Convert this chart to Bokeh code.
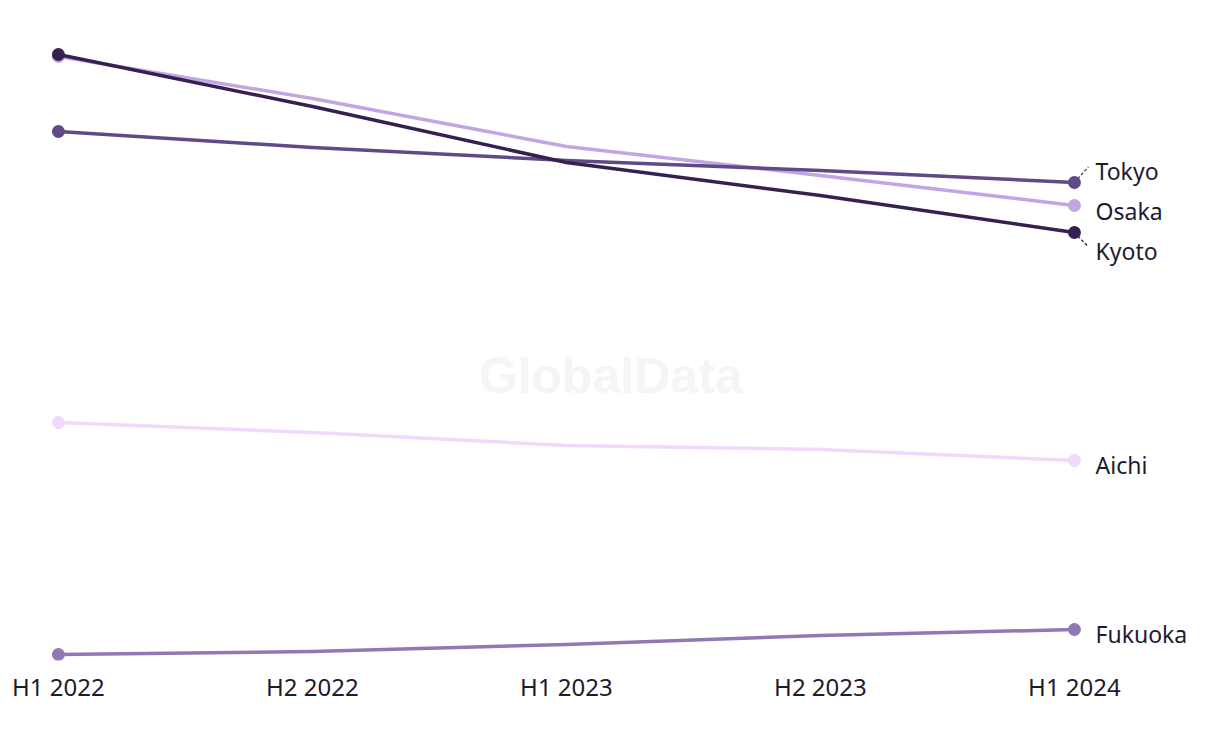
from bokeh.plotting import figure
from bokeh.models import Range1d, FixedTicker, Label, ColumnDataSource
from bokeh.embed import file_html
from bokeh.resources import INLINE
from bokeh.core.properties import value

# ---- data ----
periods = ["H1 2022", "H2 2022", "H1 2023", "H2 2023", "H1 2024"]
tokyo = [58.3, 56.7, 55.4, 54.4, 53.2]
osaka = [65.8, 61.6, 56.8, 53.9, 50.9]
kyoto = [66.0, 60.8, 55.2, 51.9, 48.2]
aichi = [29.2, 28.2, 26.9, 26.5, 25.4]
fukuoka = [6.0, 6.3, 7.0, 7.9, 8.5]

series_names = ["Aichi", "Fukuoka", "Osaka", "Tokyo", "Kyoto"]
series_values = [aichi, fukuoka, osaka, tokyo, kyoto]
series_colors = ["#f0d9fb", "#9178b4", "#c2a5e3", "#5f4a87", "#35204f"]

FONT = "Noto Sans"
TEXT_COLOR = "#1e1b2e"

xs = list(range(len(periods)))

p = figure(width=1204, height=728, output_backend="svg", toolbar_location=None,
           x_range=Range1d(-0.228, 4.512), y_range=Range1d(5.4, 71.4),
           y_axis_location=None, min_border_left=0, min_border_right=0,
           min_border_top=0, min_border_bottom=68)
p.outline_line_color = None
p.xgrid.visible = False
p.ygrid.visible = False
p.background_fill_color = "white"
p.border_fill_color = "white"

ax = p.xaxis[0]
ax.ticker = FixedTicker(ticks=xs)
ax.major_label_overrides = {i: lab for i, lab in enumerate(periods)}
ax.axis_line_color = None
ax.major_tick_line_color = None
ax.minor_tick_line_color = None
ax.major_label_text_font = FONT
ax.major_label_text_font_size = "24px"
ax.major_label_text_color = TEXT_COLOR
ax.major_label_standoff = 3

# watermark
p.add_layout(Label(x=2.174, y=33.9, text="GlobalData", text_align="center",
                   text_baseline="middle", text_font="Liberation Sans",
                   text_font_style="bold", text_font_size="50px",
                   text_color="#f5f5f5", level="underlay"))

# label spreading (avoid overlaps of end labels)
def spread(vals, gap):
    order = sorted(range(len(vals)), key=lambda i: -vals[i])
    groups = [[i] for i in order]

    def place(g):
        c = sum(vals[i] for i in g) / len(g)
        m = len(g)
        return [c - (k - (m - 1) / 2) * gap for k in range(m)]

    changed = True
    while changed:
        changed = False
        for j in range(len(groups) - 1):
            a = place(groups[j])
            b = place(groups[j + 1])
            if a[-1] - b[0] < gap:
                groups[j] = groups[j] + groups[j + 1]
                del groups[j + 1]
                changed = True
                break
    out = [0.0] * len(vals)
    for g in groups:
        for i, pos in zip(g, place(g)):
            out[i] = pos
    return out

ends = [v[-1] for v in series_values]
label_pos = spread(ends, 4.0)

# leader lines
for name, vals, col, ly in zip(series_names, series_values, series_colors, label_pos):
    if abs(ly - vals[-1]) > 0.6:
        p.segment(x0=[xs[-1]], y0=[vals[-1]], x1=[xs[-1] + 0.055], y1=[ly],
                  line_color=col, line_width=1.4, line_dash="3 2")

for name, vals, col in zip(series_names, series_values, series_colors):
    p.line(xs, vals, line_color=col, line_width=3.5, line_join="round")
    p.scatter([xs[0], xs[-1]], [vals[0], vals[-1]], size=13, fill_color=col,
              line_color=col, line_width=0)

src = ColumnDataSource(dict(x=[xs[-1] + 0.083] * len(series_names),
                            y=label_pos, t=series_names))
p.text(x="x", y="y", text="t", source=src, text_font=value(FONT),
       text_font_size="23px", text_color=TEXT_COLOR, text_baseline="middle",
       text_align="left", y_offset=4)

open("out.html", "w").write(file_html(p, INLINE))
